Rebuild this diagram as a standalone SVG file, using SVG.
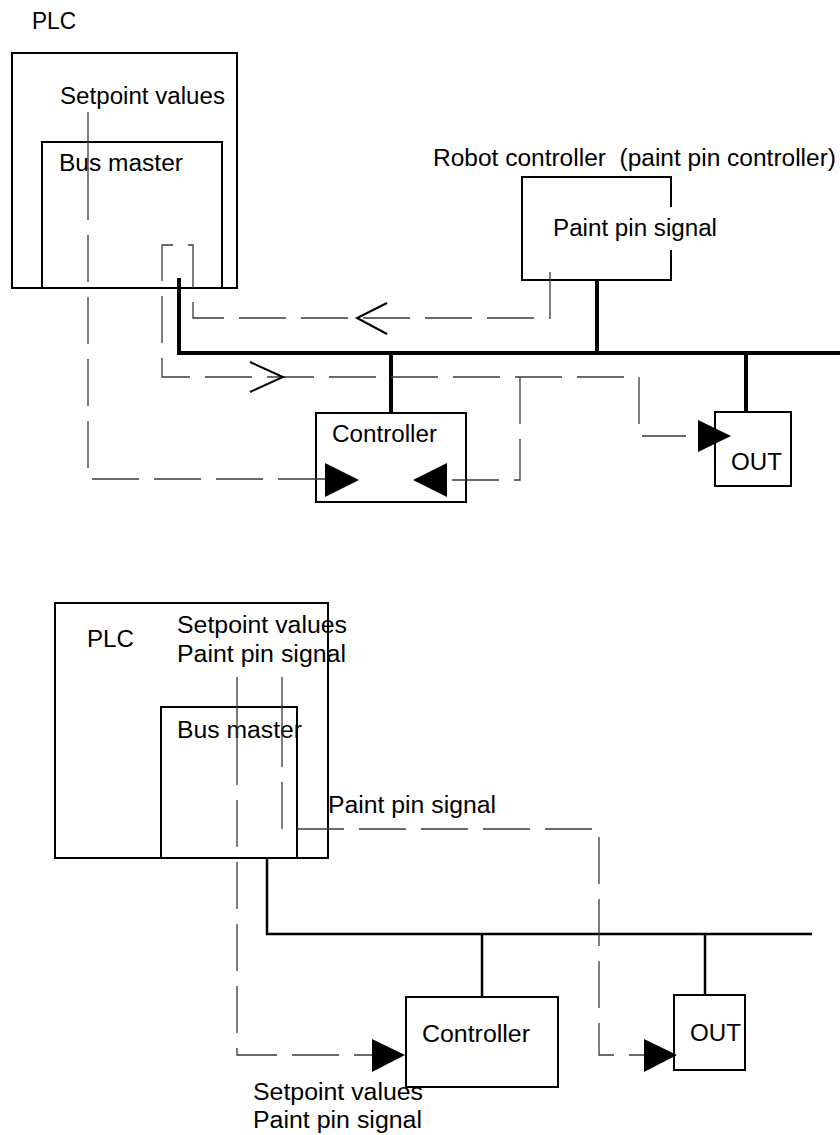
<svg xmlns="http://www.w3.org/2000/svg" width="840" height="1135" viewBox="0 0 840 1135">
<style>
  text { font-family: "Liberation Sans", Arial, sans-serif; font-size: 23px; fill: #000; }
  .box { fill: none; stroke: #000; stroke-width: 2; }
  .bus { fill: none; stroke: #000; stroke-width: 4; }
  .bus2 { fill: none; stroke: #000; stroke-width: 2.5; }
  .dash { fill: none; stroke: #3a3a3a; stroke-width: 1.3; stroke-dasharray: 47 15; }
  .chev { fill: none; stroke: #000; stroke-width: 2; }
  .tri { fill: #000; stroke: none; }
</style>
<rect width="840" height="1135" fill="#fff"/>

<!-- ===== Top diagram ===== -->
<g id="plc-top">
  <text x="32" y="29" textLength="44" lengthAdjust="spacingAndGlyphs">PLC</text>
  <rect class="box" x="12" y="53" width="225" height="235"/>
  <text x="60" y="104" textLength="165" lengthAdjust="spacingAndGlyphs">Setpoint values</text>
</g>
<g id="busmaster-top">
  <rect class="box" x="42" y="142" width="180" height="146"/>
  <text x="59" y="171" textLength="124" lengthAdjust="spacingAndGlyphs">Bus master</text>
</g>
<g id="robot-controller">
  <text x="433" y="166" textLength="403" lengthAdjust="spacingAndGlyphs">Robot controller &#160;(paint pin controller)</text>
  <path class="box" d="M671,207 V177 H522 V280 H671 V250"/>
  <text x="553" y="236" textLength="164" lengthAdjust="spacingAndGlyphs">Paint pin signal</text>
</g>
<g id="controller-top">
  <rect class="box" x="316" y="413" width="150" height="89"/>
  <text x="332" y="442" textLength="105" lengthAdjust="spacingAndGlyphs">Controller</text>
</g>
<g id="out-top">
  <rect class="box" x="715" y="412" width="76" height="74"/>
  <text x="731" y="470" textLength="51" lengthAdjust="spacingAndGlyphs">OUT</text>
</g>

<g id="connectors-top">
  <!-- bus -->
  <path class="bus" d="M179,278 V353 H840"/>
  <path class="bus" d="M391,353 V413"/>
  <path class="bus" d="M597,280 V353"/>
  <path class="bus" d="M746,353 V412"/>
  <!-- setpoint values: PLC to controller -->
  <path class="dash" style="stroke-dasharray:108 15 47 15 47 15 47 15 47 15 47 15 47 15 47 15 47 15" d="M88,112 V479 H325"/>
  <polygon class="tri" points="325,463 359,480 325,497"/>
  <!-- paint pin signal: robot -> bus master -> OUT -->
  <path class="dash" d="M550,272 V318 H193 V245 H162 V377 H639 V436 H686"/>
  <polyline class="chev" points="387,303 357,318 387,334"/>
  <polyline class="chev" points="250,362 283,377 250,392"/>
  <polygon class="tri" points="698,420 731,436 698,452"/>
  <!-- branch to controller -->
  <path class="dash" d="M520,377 V480 H447"/>
  <polygon class="tri" points="447,463 413,480 447,497"/>
</g>

<!-- ===== Bottom diagram ===== -->
<g id="plc-bottom">
  <rect class="box" x="55" y="603" width="273" height="255"/>
  <text x="87" y="647" textLength="47" lengthAdjust="spacingAndGlyphs">PLC</text>
  <text x="177" y="633" textLength="170" lengthAdjust="spacingAndGlyphs">Setpoint values</text>
  <text x="177" y="662" textLength="169" lengthAdjust="spacingAndGlyphs">Paint pin signal</text>
</g>
<g id="busmaster-bottom">
  <rect class="box" x="161" y="707" width="136" height="151"/>
  <text x="177" y="738" textLength="125" lengthAdjust="spacingAndGlyphs">Bus master</text>
</g>
<g id="controller-bottom">
  <rect class="box" x="406" y="997" width="152" height="90"/>
  <text x="422" y="1042" textLength="108" lengthAdjust="spacingAndGlyphs">Controller</text>
</g>
<g id="out-bottom">
  <rect class="box" x="674" y="995" width="71" height="75"/>
  <text x="690" y="1041" textLength="51" lengthAdjust="spacingAndGlyphs">OUT</text>
</g>
<g id="labels-bottom">
  <text x="328" y="813" textLength="168" lengthAdjust="spacingAndGlyphs">Paint pin signal</text>
  <text x="253" y="1100" textLength="170" lengthAdjust="spacingAndGlyphs">Setpoint values</text>
  <text x="253" y="1128" textLength="169" lengthAdjust="spacingAndGlyphs">Paint pin signal</text>
</g>

<g id="connectors-bottom">
  <path class="bus2" d="M267,858 V934 H812"/>
  <path class="bus2" d="M482,934 V997"/>
  <path class="bus2" d="M705,934 V995"/>
  <path class="dash" style="stroke-dasharray:108 15 47 15 47 15 47 15 47 15 47 15 47 15 47 15" d="M237,677 V1055 H372"/>
  <polygon class="tri" points="372,1039 405,1055 372,1072"/>
  <path class="dash" style="stroke-dasharray:90 15 47 15 47 15 47 15 47 15 47 15 47 15 47 15 47 15 47 15 47 15 47 15 47 15" d="M282,677 V829 H599 V1055 H644"/>
  <polygon class="tri" points="644,1039 677,1055 644,1072"/>
</g>
</svg>
